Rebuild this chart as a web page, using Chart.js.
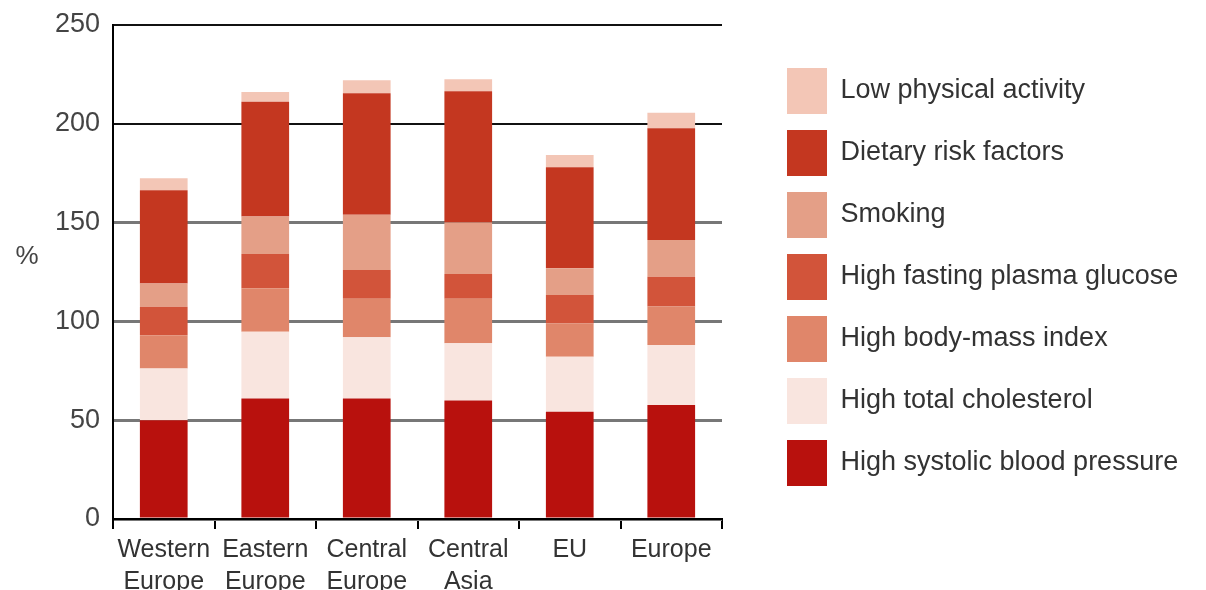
<!DOCTYPE html>
<html>
<head>
<meta charset="utf-8">
<script src="https://cdn.jsdelivr.net/npm/chart.js@4.4.0/dist/chart.umd.min.js"></script>
<style>
  html, body { margin: 0; padding: 0; background: #fff; }
</style>
</head>
<body>
<canvas id="riskChart" width="1206" height="590"></canvas>
<script>
// categories and stacked series (bottom to top), values in %
const regions = [['Western', 'Europe'], ['Eastern', 'Europe'], ['Central', 'Europe'], ['Central', 'Asia'], 'EU', 'Europe'];
const systolicBP  = [50.0, 61.0, 61.0, 60.0, 54.3, 57.7];
const cholesterol = [26.2, 33.8, 31.0, 29.0, 27.8, 30.3];
const bodyMass    = [16.8, 22.0, 19.5, 22.5, 16.9, 19.5];
const glucose     = [14.4, 17.3, 14.5, 12.5, 14.4, 15.1];
const smoking     = [11.8, 19.0, 28.0, 26.0, 13.5, 18.6];
const dietary     = [47.2, 58.0, 61.5, 66.5, 51.1, 56.5];
const lowActivity = [6.1, 5.0, 6.5, 6.0, 6.2, 7.9];
const yTicks = [0, 50, 100, 150, 200, 250];

const FONT = "'Liberation Sans', Arial, sans-serif";

function series(label, data, color) {
    return { label: label, data: data, backgroundColor: color, borderWidth: 0 };
}

// draws the horizontal "%" axis label left of the tick numbers
const percentLabel = {
    id: 'percentLabel',
    afterDraw(chart) {
        const ctx = chart.ctx;
        ctx.save();
        ctx.font = '26px ' + FONT;
        ctx.fillStyle = '#444';
        ctx.textAlign = 'center';
        ctx.textBaseline = 'middle';
        ctx.fillText('%', 27, 257);
        ctx.restore();
    }
};

// fixed legend width so it sits where the original one is
const legendWidth = {
    id: 'legendWidth',
    beforeInit(chart) {
        const fit = chart.legend.fit;
        chart.legend.fit = function () {
            fit.bind(chart.legend)();
            this.width = 435;
        };
    }
};

new Chart(document.getElementById('riskChart'), {
    type: 'bar',
    data: {
        labels: regions,
        datasets: [
            series('High systolic blood pressure', systolicBP, '#b8110d'),
            series('High total cholesterol', cholesterol, '#f9e5df'),
            series('High body-mass index', bodyMass, '#e0866a'),
            series('High fasting plasma glucose', glucose, '#d2543a'),
            series('Smoking', smoking, '#e49f87'),
            series('Dietary risk factors', dietary, '#c43720'),
            series('Low physical activity', lowActivity, '#f3c6b6')
        ]
    },
    options: {
        responsive: false,
        animation: false,
        layout: { padding: { top: 25, right: 0, bottom: 0, left: 0 } },
        datasets: { bar: { categoryPercentage: 1, barPercentage: 0.47 } },
        scales: {
            x: {
                stacked: true,
                border: { display: true, color: '#000', width: 2 },
                grid: { display: true, drawOnChartArea: false, drawTicks: true, tickLength: 10, color: '#000', lineWidth: 2 },
                ticks: { color: '#333', padding: 5, font: { family: FONT, size: 25, lineHeight: 1.28 }, maxRotation: 0, autoSkip: false },
                afterFit(scale) { scale.height = 71; }
            },
            y: {
                stacked: true,
                min: 0,
                max: 250,
                afterBuildTicks(scale) { scale.ticks = yTicks.map(v => ({ value: v })); },
                border: { display: true, color: '#000', width: 2 },
                grid: {
                    drawTicks: false,
                    color: ctx => (ctx.tick && ctx.tick.value >= 200) ? '#111' : '#777',
                    lineWidth: ctx => (ctx.tick && ctx.tick.value >= 200) ? 2 : 3
                },
                ticks: { color: '#444', padding: 13, font: { family: FONT, size: 27 } },
                afterFit(scale) {
                    scale.width = 113;
                    scale.paddingTop = 0;
                    scale.paddingBottom = 0;
                }
            },
            gap: {
                type: 'linear',
                position: 'right',
                display: true,
                grid: { display: false },
                border: { display: false },
                ticks: { display: false },
                afterFit(scale) { scale.width = 49; }
            }
        },
        plugins: {
            tooltip: { enabled: false },
            legend: {
                position: 'right',
                align: 'start',
                reverse: true,
                title: { display: true, text: ' ', font: { size: 10 }, padding: { top: 15, bottom: 0 } },
                labels: {
                    boxWidth: 40,
                    boxHeight: 46,
                    padding: 16,
                    color: '#333',
                    font: { family: FONT, size: 27 }
                }
            }
        }
    },
    plugins: [percentLabel, legendWidth]
});
</script>
</body>
</html>
